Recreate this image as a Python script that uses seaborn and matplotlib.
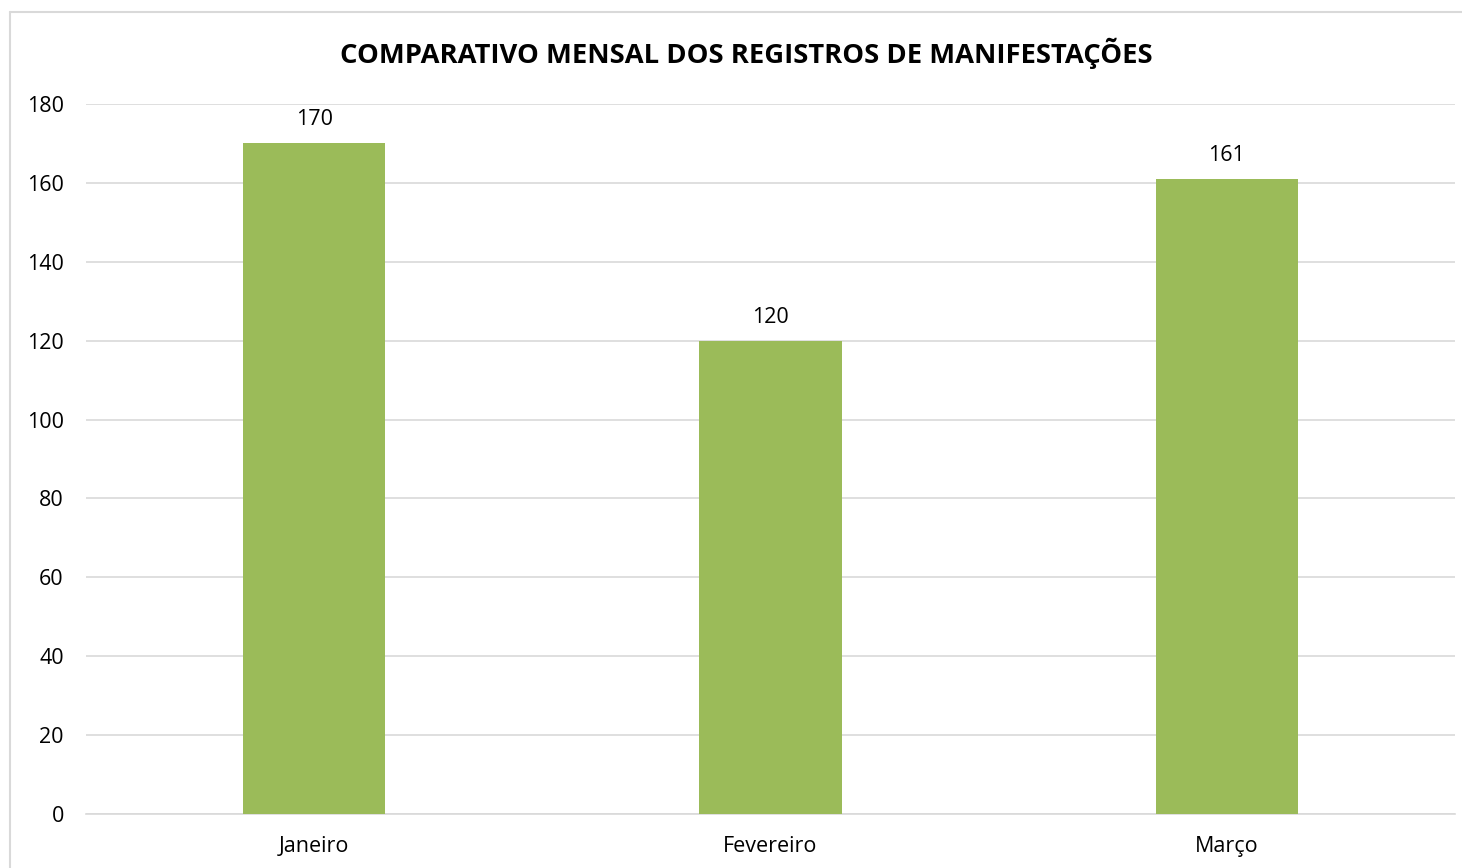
import matplotlib
matplotlib.use("Agg")
import matplotlib.pyplot as plt
from matplotlib.lines import Line2D
import seaborn as sns
import pandas as pd

# =========================
# DATA
# =========================
months = ["Janeiro", "Fevereiro", "Março"]
registros = [170, 120, 161]
y_ticks = [0, 20, 40, 60, 80, 100, 120, 140, 160, 180]

df = pd.DataFrame({"mes": months, "registros": registros})

# =========================
# STYLE
# =========================
sns.set_theme(style="white")
plt.rcParams["font.family"] = ["Open Sans", "DejaVu Sans"]

fig = plt.figure(figsize=(14.62, 8.68), dpi=100)
ax = fig.add_axes([86 / 1462, 54 / 868, 1369 / 1462, 710 / 868])

# outer chart border: only top and left edges fall inside the picture
bx, by = 10 / 1462, 1 - 12 / 868
fig.add_artist(Line2D([bx, 1.0], [by, by], transform=fig.transFigure,
                      color="#d9d9d9", linewidth=1.5))
fig.add_artist(Line2D([bx, bx], [0.0, by], transform=fig.transFigure,
                      color="#d9d9d9", linewidth=1.5))

sns.barplot(data=df, x="mes", y="registros", color="#9bbb59",
            width=0.312, saturation=1, linewidth=0, ax=ax, zorder=3)

for i, v in enumerate(registros):
    ax.text(i, v + 3.3, str(v), ha="center", va="bottom", fontsize=15.5, color="#000000")

ax.set_ylim(0, 180)
ax.set_yticks(y_ticks)
ax.yaxis.grid(True, color="#d9d9d9", linewidth=1.2, zorder=0)
ax.set_axisbelow(True)
for s in ["top", "right", "left"]:
    ax.spines[s].set_visible(False)
ax.spines["bottom"].set_color("#d9d9d9")
ax.spines["bottom"].set_linewidth(1.2)
ax.tick_params(axis="both", length=0, labelsize=15.5, colors="#000000")
ax.tick_params(axis="y", pad=16)
ax.tick_params(axis="x", pad=16)
ax.set_xlabel("")
ax.set_ylabel("")

fig.text(0.5 * (341 + 1152) / 1462, 1 - 53 / 868,
         "COMPARATIVO MENSAL DOS REGISTROS DE MANIFESTAÇÕES",
         ha="center", va="center", fontsize=19.75, fontweight="bold", color="#000000")

fig.savefig("out.png", dpi=100)
